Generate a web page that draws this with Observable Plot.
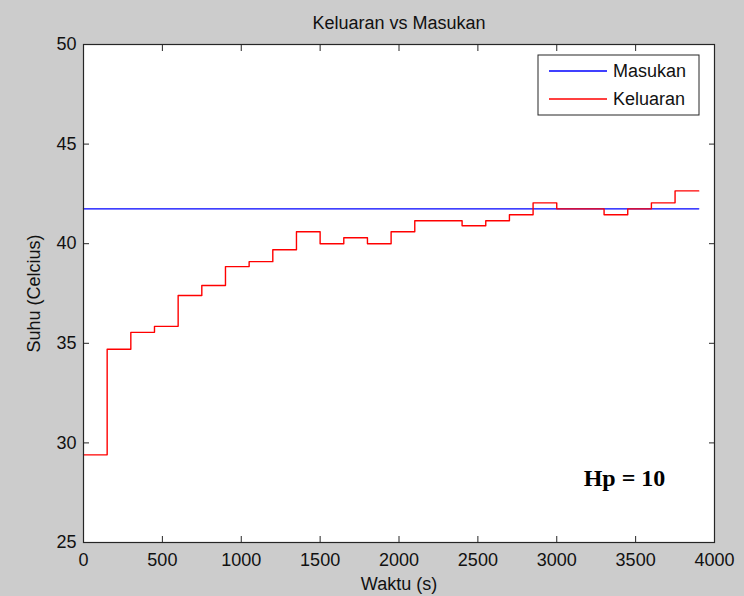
<!DOCTYPE html>
<html>
<head>
<meta charset="utf-8">
<script src="https://cdn.jsdelivr.net/npm/d3@7"></script>
<script src="https://cdn.jsdelivr.net/npm/@observablehq/plot@0.6"></script>
<style>
  html, body { margin: 0; padding: 0; background: #cccccc; }
  #chart svg { display: block; }
</style>
</head>
<body>
<div id="chart"></div>
<script>
// Sample instants (s) of the controller; each value holds until the next instant
const waktu = [0, 150, 300, 450, 600, 750, 900, 1050, 1200, 1350, 1500, 1650, 1800,
  1950, 2100, 2250, 2400, 2550, 2700, 2850, 3000, 3150, 3300, 3450, 3600, 3750, 3900];

// Measured output temperature (°C)
const keluaran = [29.4, 34.7, 35.55, 35.85, 37.4, 37.9, 38.85, 39.1, 39.7, 40.6, 40.0, 40.3, 40.0,
  40.6, 41.15, 41.15, 40.9, 41.15, 41.45, 42.05, 41.75, 41.75, 41.45, 41.75, 42.05, 42.65, 42.65];

// Set point (°C), constant over the run
const masukanWaktu = [0, 3900];
const masukan = [41.75, 41.75];

const seriesNames = ["Masukan", "Keluaran"];
const seriesColors = ["#0000ff", "#ff0000"];

const xTicks = [0, 500, 1000, 1500, 2000, 2500, 3000, 3500, 4000];
const yTicks = [25, 30, 35, 40, 45, 50];

const titleText = "Keluaran vs Masukan";
const xLabel = "Waktu (s)";
const yLabel = "Suhu (Celcius)";
const note = "Hp = 10";

const outRows = waktu.map((t, i) => ({t, v: keluaran[i]}));
const inRows = masukanWaktu.map((t, i) => ({t, v: masukan[i]}));

const axisColor = "#262626";
const sans = "Arial, 'Liberation Sans', Helvetica, sans-serif";

const W = 744, H = 596;
const mL = 83, mR = 30, mT = 44, mB = 54;

const chart = Plot.plot({
  width: W,
  height: H,
  marginLeft: mL,
  marginRight: mR,
  marginTop: mT,
  marginBottom: mB,
  style: {background: "transparent", fontFamily: sans, fontSize: "18px", color: "#111"},
  x: {domain: [0, 4000]},
  y: {domain: [25, 50]},
  marks: [
    Plot.frame({fill: "#ffffff", stroke: null}),
    Plot.line(inRows, {x: "t", y: "v", stroke: seriesColors[0], strokeWidth: 1.4, curve: "step-after"}),
    Plot.line(outRows, {x: "t", y: "v", stroke: seriesColors[1], strokeWidth: 1.4, curve: "step-after"}),
    Plot.frame({stroke: axisColor, strokeWidth: 1.2}),
    // inward tick marks on all four sides
    Plot.axisX(xTicks, {anchor: "bottom", tickSize: -6, text: null, label: null, stroke: axisColor}),
    Plot.axisX(xTicks, {anchor: "top", tickSize: -6, text: null, label: null, stroke: axisColor}),
    Plot.axisY(yTicks, {anchor: "left", tickSize: -6, text: null, label: null, stroke: axisColor}),
    Plot.axisY(yTicks, {anchor: "right", tickSize: -6, text: null, label: null, stroke: axisColor}),
    // tick labels
    Plot.axisX(xTicks, {anchor: "bottom", tickSize: 0, tickPadding: 11, label: null, fill: "#111", tickFormat: d => String(d)}),
    Plot.axisY(yTicks, {anchor: "left", tickSize: 0, tickPadding: 7, label: null, fill: "#111", tickFormat: d => String(d)}),
    // title and axis labels
    Plot.text([titleText], {frameAnchor: "top", dy: -21, lineAnchor: "middle", textAnchor: "middle", fontSize: 18, fill: "#111"}),
    Plot.text([xLabel], {frameAnchor: "bottom", dy: 42, lineAnchor: "middle", textAnchor: "middle", fontSize: 18, fill: "#111"}),
    Plot.text([yLabel], {frameAnchor: "left", dx: -49, rotate: -90, lineAnchor: "middle", textAnchor: "middle", fontSize: 18, fill: "#111"}),
    // annotation
    Plot.text([note], {frameAnchor: "bottom-right", dx: -90, dy: -64, lineAnchor: "middle", textAnchor: "middle",
      fontSize: 24, fontWeight: "bold", fontFamily: "'Liberation Serif', 'Times New Roman', serif", fill: "#000"})
  ]
});

// Legend box in the upper-right corner of the axes
const svg = d3.select(chart);
const boxW = 161, boxH = 60;
const bx = W - mR - 15 - boxW, by = mT + 11;
const lg = svg.append("g").attr("font-family", sans).attr("font-size", 18).attr("text-anchor", "start");
lg.append("rect").attr("x", bx).attr("y", by).attr("width", boxW).attr("height", boxH)
  .attr("fill", "#ffffff").attr("stroke", axisColor).attr("stroke-width", 1);
seriesNames.forEach((name, i) => {
  const yy = by + 16 + i * 28;
  lg.append("line").attr("x1", bx + 11).attr("x2", bx + 69).attr("y1", yy).attr("y2", yy)
    .attr("stroke", seriesColors[i]).attr("stroke-width", 1.4);
  lg.append("text").attr("x", bx + 75).attr("y", yy).attr("dy", "0.35em").attr("fill", "#111").text(name);
});

document.getElementById("chart").appendChild(chart);
</script>
</body>
</html>
